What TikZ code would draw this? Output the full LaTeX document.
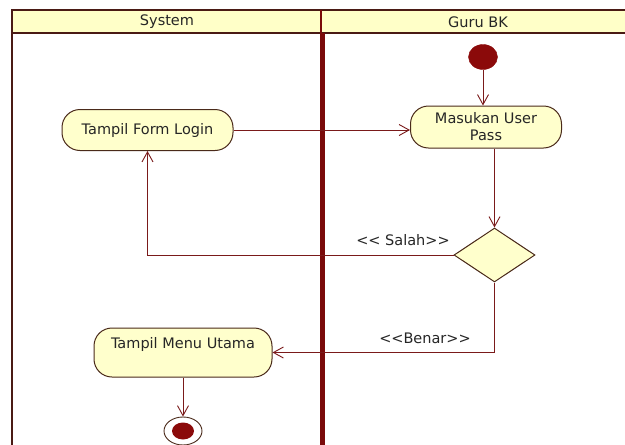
\documentclass[tikz,border=0pt]{standalone}
\usepackage{fontspec}
\setmainfont{DejaVu Sans}
\usetikzlibrary{arrows.meta,shapes.geometric}
\definecolor{lane}{HTML}{4A1A14}
\definecolor{divc}{HTML}{7A0A0A}
\definecolor{hdr}{HTML}{FFFFC8}
\definecolor{boxfill}{HTML}{FFFFCC}
\definecolor{boxline}{HTML}{4A2A1A}
\definecolor{flow}{HTML}{7A1A1A}
\definecolor{dot}{HTML}{8B0A0A}
\definecolor{txt}{HTML}{262626}
\begin{document}
\begin{tikzpicture}[x=1pt,y=-1pt,
  font=\fontsize{14.5}{17}\selectfont, text=txt,
  actbox/.style={draw=boxline, fill=boxfill, line width=1pt, rounded corners=18pt, inner sep=0pt},
  flowline/.style={draw=flow, line width=0.9pt, -{Straight Barb[length=10pt,width=11pt]}},
  lanetitle/.style={inner sep=0pt},
  guard/.style={inner sep=0pt}]
\useasboundingbox (0,0) rectangle (625,445);
\fill[white] (0,0) rectangle (625,445);
% swimlane frame
\path[fill=hdr] (12,10) rectangle (625,33);
\draw[lane, line width=2.2pt] (625,10) -- (12,10) -- (12,445);
\draw[lane, line width=2pt] (12,33) -- (625,33);
\draw[divc, line width=1.5pt] (321,10) -- (321,33);
\draw[divc, line width=5pt] (322,33) -- (322,445);
\node[lanetitle] (sys) at (167,22) {System};
\node[lanetitle] (guru) at (478,22) {Guru BK};
% nodes
\node[ellipse, fill=dot, draw=dot, minimum width=29pt, minimum height=25pt, inner sep=0pt] (start) at (483,57) {};
\node[actbox, minimum width=151pt, minimum height=42pt, align=center] (mas) at (486,127) {Masukan User\\Pass};
\node[actbox, minimum width=171pt, minimum height=41pt] (tfl) at (147.5,130) {Tampil Form Login};
\node[diamond, draw=boxline, fill=boxfill, line width=1pt, minimum width=81pt, minimum height=54pt, inner sep=0pt] (dec) at (494.5,255) {};
\node[actbox, minimum width=178pt, text height=20pt, text depth=29pt, inner ysep=0pt] (tmu) at (183,352.5) {Tampil Menu Utama};
\node[ellipse, draw=boxline, fill=white, line width=0.9pt, minimum width=38pt, minimum height=28pt, inner sep=0pt] (end) at (183,431) {};
\node[ellipse, fill=dot, minimum width=22pt, minimum height=17pt, inner sep=0pt] (endin) at (end.center) {};
% connectors
\draw[flowline] (start.south) -- (start.south |- mas.north);
\draw[flowline] (tfl.east) -- (tfl.east -| mas.west);
\draw[flowline] (mas.south -| dec.north) -- (dec.north);
\draw[flowline] (dec.west) -- (dec.west -| tfl.south) -- (tfl.south);
\draw[flowline] (dec.south) -- (dec.south |- tmu.east) -- (tmu.east);
\draw[flowline] (tmu.south) -- (end.north);
% guards
\node[guard] (salah) at (403,240) {<{}< Salah>{}>};
\node[guard] (benar) at (425,338) {<{}<Benar>{}>};
\end{tikzpicture}
\end{document}
